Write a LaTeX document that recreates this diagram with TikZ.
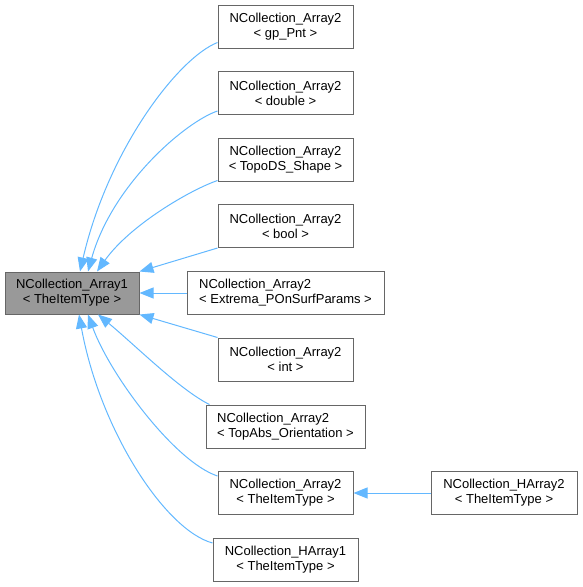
\documentclass[tikz,border=0pt]{standalone}
\usepackage{fontspec}
\setmainfont{Liberation Sans}
\usetikzlibrary{arrows.meta}
\definecolor{edgeblue}{HTML}{63B8FF}
\definecolor{boxborder}{HTML}{666666}
\definecolor{mainfill}{HTML}{999999}
\tikzset{
  box/.style={draw=boxborder, fill=white, line width=1pt, minimum height=43pt,
    inner xsep=10pt, inner ysep=0pt, font=\fontsize{13}{15}\selectfont, align=center},
  inh/.style={draw=edgeblue, line width=1pt, -{Triangle[length=14pt,width=11pt]}},
}
\begin{document}
\begin{tikzpicture}[x=1pt,y=-1pt]
\useasboundingbox (0,0) rectangle (582,587);
\node[box, fill=mainfill, minimum width=134pt, minimum height=42pt] (main) at (72,293) {NCollection\_Array1\\< TheItemType >};
\node[box, minimum width=135pt] (gp) at (285.5,26.5) {NCollection\_Array2\\< gp\_Pnt >};
\node[box, minimum width=135pt] (dbl) at (285.5,93) {NCollection\_Array2\\< double >};
\node[box, minimum width=135pt] (topo) at (285.5,159.5) {NCollection\_Array2\\< TopoDS\_Shape >};
\node[box, minimum width=135pt] (bool) at (285.5,226) {NCollection\_Array2\\< bool >};
\node[box, minimum width=197pt, align=left] (extrema) at (285.5,293) {NCollection\_Array2\\< Extrema\_POnSurfParams >};
\node[box, minimum width=135pt] (int) at (285.5,359.5) {NCollection\_Array2\\< int >};
\node[box, minimum width=159pt, align=left] (topabs) at (285.5,426.5) {NCollection\_Array2\\< TopAbs\_Orientation >};
\node[box, minimum width=135pt] (atype) at (285.5,493) {NCollection\_Array2\\< TheItemType >};
\node[box, minimum width=146pt] (hatwo) at (504,493) {NCollection\_HArray2\\< TheItemType >};
\node[box, minimum width=145pt] (haone) at (285.5,560) {NCollection\_HArray1\\< TheItemType >};

\draw[inh] ([yshift=6pt]gp.south west) .. controls (178,58) and (108,150) .. ([xshift=8pt]main.north);
\draw[inh] ([yshift=4pt]dbl.south west) .. controls (185,122) and (112,185) .. ([xshift=16pt]main.north);
\draw[inh] ([yshift=1pt]topo.south west) .. controls (190,190) and (130,225) .. ([xshift=25pt]main.north);
\draw[inh] (bool.south west) -- (main.north east);
\draw[inh] (extrema.west) -- (main.east);
\draw[inh] (int.north west) -- (main.south east);
\draw[inh] ([xshift=4pt]topabs.north west) .. controls (180,390) and (135,345) .. ([xshift=26pt]main.south);
\draw[inh] ([yshift=-5pt]atype.north west) .. controls (175,462) and (110,375) .. ([xshift=16pt]main.south);
\draw[inh] ([yshift=-5pt]haone.north west) .. controls (165,530) and (100,430) .. ([xshift=7pt]main.south);
\draw[inh] (hatwo.west) -- (atype.east);
\end{tikzpicture}
\end{document}
